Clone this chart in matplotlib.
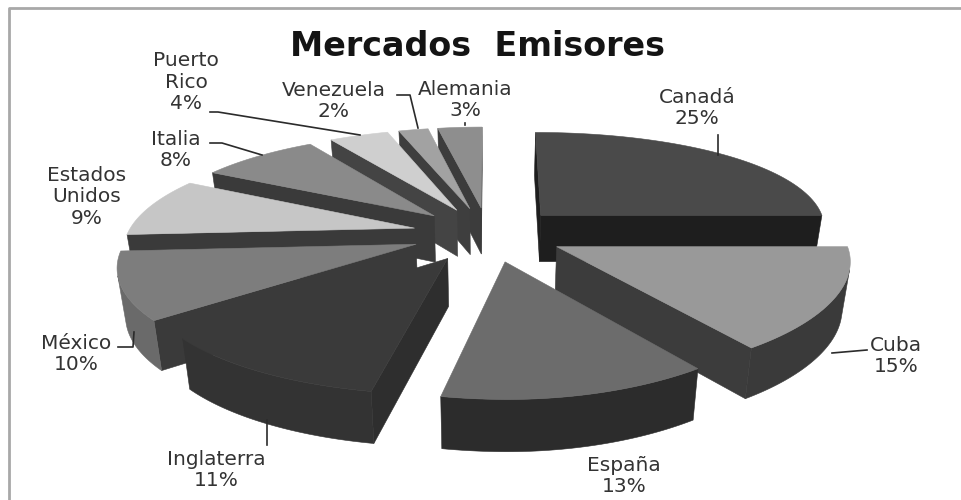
import numpy as np
import matplotlib
matplotlib.use("Agg")
import matplotlib.pyplot as plt
from matplotlib.patches import Polygon

# Market shares, clockwise from twelve o'clock
markets = ["Canadá", "Cuba", "España", "Inglaterra", "México",
           "Estados\nUnidos", "Italia", "Puerto\nRico", "Venezuela", "Alemania"]
shares = [25, 15, 13, 11, 10, 9, 8, 4, 2, 3]
title = "Mercados  Emisores"

# Slice shades: top surface, outer rim, radial walls
top_colors = ["#4a4a4a", "#999999", "#6c6c6c", "#3a3a3a", "#7d7d7d",
              "#c6c6c6", "#8a8a8a", "#cfcfcf", "#a2a2a2", "#8e8e8e"]
rim_colors = ["#303030", "#3a3a3a", "#2c2c2c", "#333333", "#6a6a6a",
              "#3a3a3a", "#3a3a3a", "#444444", "#3e3e3e", "#3c3c3c"]
wall_colors = ["#1e1e1e", "#3c3c3c", "#2c2c2c", "#2e2e2e", "#3a3a3a",
               "#3a3a3a", "#3a3a3a", "#444444", "#3e3e3e", "#3c3c3c"]
# Paint order, far slices first
paint_order = [9, 8, 7, 6, 5, 0, 4, 1, 3, 2]

# Projection of the tilted pie into figure pixels
CX, CY = 488, 234
SCALE_X, SCALE_Y = 287, 103
PERSPECTIVE = 0.172
PERSPECTIVE_RIGHT = 0.11   # the right half converges less in x
EXPLODE = 0.265
DEPTH = 47
DEPTH_PERSPECTIVE = 0.08
TAPER = 0.023

label_xy = [(697, 108), (896, 356), (624, 476), (216, 470), (76, 354),
            (87, 197), (176, 150), (186, 82), (334, 101), (465, 100)]
leaders = [[(718, 135), (718, 155)],
           [(867, 350), (832, 353)],
           [(267, 445), (267, 420)],
           [(118, 347), (133, 347), (134, 332)],
           [(210, 143), (222, 143), (262, 155)],
           [(210, 112), (218, 112), (360, 135)],
           [(397, 95), (410, 95), (418, 128)],
           [(465, 123), (465, 125)]]


def project(wx, wy):
    sx = 1 / (1 + np.where(wx > 0, PERSPECTIVE_RIGHT, PERSPECTIVE) * wy)
    sy = 1 / (1 + PERSPECTIVE * wy)
    return np.column_stack((CX + SCALE_X * wx * sx, CY - SCALE_Y * wy * sy))


def lower(points, wy):
    out = points.copy()
    out[:, 0] = CX + (points[:, 0] - CX) * (1 - TAPER)
    out[:, 1] = points[:, 1] + DEPTH / (1 + DEPTH_PERSPECTIVE * wy)
    return out


def face_is_visible(a, b, a_low, b_low):
    # With y pointing down, faces looking towards the viewer have negative area
    q = np.array([a, b, b_low, a_low])
    x, y = q[:, 0], q[:, 1]
    return np.dot(x, np.roll(y, -1)) - np.dot(y, np.roll(x, -1)) < 0


fig = plt.figure(figsize=(9.62, 5), dpi=100)
ax = fig.add_axes([0, 0, 1, 1])
ax.set_xlim(0, 962)
ax.set_ylim(500, 0)
ax.axis("off")

# Chart frame: only the left and top sides remain
ax.plot([9, 9, 962], [500, 8, 8], color="#a8a8a8", lw=2, zorder=1)

edges = np.radians(np.concatenate(([0], np.cumsum(shares))) * 3.6)

for i in paint_order:
    t0, t1 = edges[i], edges[i + 1]
    mid = (t0 + t1) / 2
    ox, oy = EXPLODE * np.sin(mid), EXPLODE * np.cos(mid)
    t = np.linspace(t0, t1, 60)
    wx = np.concatenate(([ox], ox + np.sin(t)))
    wy = np.concatenate(([oy], oy + np.cos(t)))
    top = project(wx, wy)
    low = lower(top, wy)
    n = len(top)
    # Walls first, then the rim, then the top surface
    for j in (0, n - 1):
        k = (j + 1) % n
        if face_is_visible(top[j], top[k], low[j], low[k]):
            ax.add_patch(Polygon([top[j], top[k], low[k], low[j]],
                                 fc=wall_colors[i], ec=wall_colors[i], lw=0.4, zorder=2))
    facing = [j for j in range(1, n - 1)
              if face_is_visible(top[j], top[j + 1], low[j], low[j + 1])]
    if facing:
        upper_arc = top[facing[0]:facing[-1] + 2]
        lower_arc = low[facing[0]:facing[-1] + 2]
        ax.add_patch(Polygon(np.vstack((upper_arc, lower_arc[::-1])),
                             fc=rim_colors[i], ec=rim_colors[i], lw=0.4, zorder=2))
    ax.add_patch(Polygon(top, fc=top_colors[i], ec=top_colors[i], lw=0.4, zorder=2))

for path in leaders:
    xs, ys = zip(*path)
    ax.plot(xs, ys, color="#2b2b2b", lw=1.2, zorder=3)

for name, share, (x, y) in zip(markets, shares, label_xy):
    ax.text(x, y, f"{name}\n{share}%", ha="center", va="center", color="#333333",
            fontsize=14.5, family="DejaVu Sans", linespacing=1.18, zorder=4)

ax.text(478, 47, title, ha="center", va="center", color="#141414",
        fontsize=24, fontweight="bold", family="DejaVu Sans", zorder=4)

fig.savefig("out.png", dpi=100, facecolor="white")
